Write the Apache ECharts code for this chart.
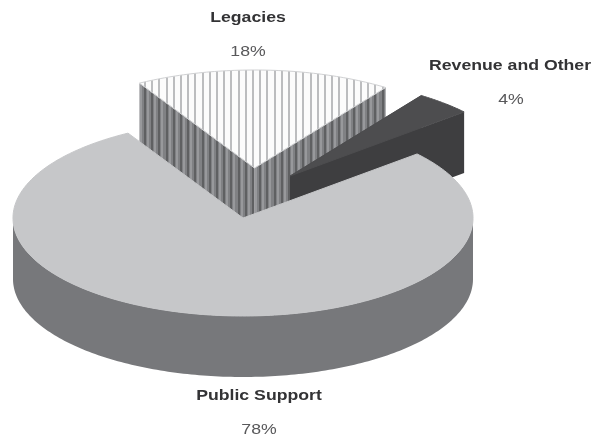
<!DOCTYPE html>
<html>
<head>
<meta charset="utf-8">
<style>html,body{margin:0;padding:0;background:#fff}#chart{width:593px;height:440px}</style>
<script src="https://cdn.jsdelivr.net/npm/echarts@6/dist/echarts.min.js"></script>
</head>
<body>
<div id="chart"></div>
<script>
// Funding shares, listed back to front so nearer slices paint over farther ones.
const categories = ['Legacies', 'Revenue and Other', 'Public Support'];
const shares = [18, 4, 78];
const percentLabels = ['18%', '4%', '78%'];

// Tilted-disc projection of the pie.
const radiusX = 230, radiusY = 98, depth = 61;
const startAngle = -30;   // degrees clockwise from north
const sliceCentres = [[254.5, 168], [290, 176], [243, 218]];
const nameAnchors = [[248, 17.5], [510, 65.5], [259, 396]];
const valueAnchors = [[248, 52], [511, 100], [259, 430]];
const textStretch = 1.14;   // labels are set wider than the face's natural width

// Vertical stripe tile: one repeat holds five evenly spaced stripes.
function stripeTile(base, dark, light) {
  const c = document.createElement('canvas');
  c.width = 36; c.height = 4;
  const g = c.getContext('2d');
  g.fillStyle = base; g.fillRect(0, 0, 36, 4);
  for (let i = 0; i < 5; i++) {
    const x = Math.round(i * 7.2);
    g.fillStyle = dark; g.fillRect(x, 0, 2, 4);
    if (light) { g.fillStyle = light; g.fillRect(x + 3, 0, 2, 4); }
  }
  return { image: c, repeat: 'repeat' };
}

const sliceStyles = [
  { top: stripeTile('#fcfcfc', '#bcbdbf'), wall: stripeTile('#808184', '#5f6062', '#98999c'), edge: '#d0d1d3' },
  { top: '#4d4d4f', wall: '#3e3e40', edge: '#4d4d4f' },
  { top: '#c6c7c9', wall: '#77787b', edge: '#c6c7c9' }
];

const total = shares.reduce((a, b) => a + b, 0);
const toPoint = (c, deg, dy) => {
  const r = deg * Math.PI / 180;
  return [c[0] + radiusX * Math.sin(r), c[1] - radiusY * Math.cos(r) + (dy || 0)];
};
const arcPoints = (c, a0, a1, dy) => {
  const pts = [];
  const n = Math.max(2, Math.ceil(Math.abs(a1 - a0)));
  for (let i = 0; i <= n; i++) pts.push(toPoint(c, a0 + (a1 - a0) * i / n, dy));
  return pts;
};

function renderSlice(params, api) {
  const i = params.dataIndex;
  const before = shares.slice(0, i).reduce((a, b) => a + b, 0);
  const a0 = startAngle + before / total * 360;
  const a1 = a0 + api.value(0) / total * 360;
  const c = sliceCentres[i];
  const st = sliceStyles[i];
  const down = [c[0], c[1] + depth];
  const children = [];
  const poly = (points, style) => children.push({ type: 'polygon', shape: { points }, style });

  // Radial walls seen through the wedge opening.
  if (i < 2) {
    poly([c, toPoint(c, a0), toPoint(c, a0, depth), down], { fill: st.wall });
    poly([c, toPoint(c, a1), toPoint(c, a1, depth), down], { fill: st.wall });
  }
  // Outer rim, only where it faces the viewer.
  const v0 = Math.max(a0, 90), v1 = Math.min(a1, 270);
  if (v1 > v0) {
    poly(arcPoints(c, v0, v1).concat(arcPoints(c, v1, v0, depth)), { fill: st.wall });
  }
  // Top face.
  poly([c].concat(arcPoints(c, a0, a1)), { fill: st.top, stroke: st.edge, lineWidth: 1 });

  const text = (pos, t, font, fill) => children.push({
    type: 'text', x: pos[0], y: pos[1], scaleX: textStretch, z2: 10,
    style: { text: t, font, fill, textAlign: 'center', textVerticalAlign: 'middle' }
  });
  text(nameAnchors[i], categories[i], 'bold 15.5px "Liberation Sans", Arial, sans-serif', '#333335');
  text(valueAnchors[i], percentLabels[i], '15.5px "Liberation Sans", Arial, sans-serif', '#58585a');
  return { type: 'group', children };
}

const chart = echarts.init(document.getElementById('chart'));
chart.setOption({
  animation: false,
  backgroundColor: '#ffffff',
  series: [{
    type: 'custom',
    coordinateSystem: 'none',
    silent: true,
    renderItem: renderSlice,
    data: shares.map((v, i) => ({ name: categories[i], value: [v] }))
  }]
});
</script>
</body>
</html>
